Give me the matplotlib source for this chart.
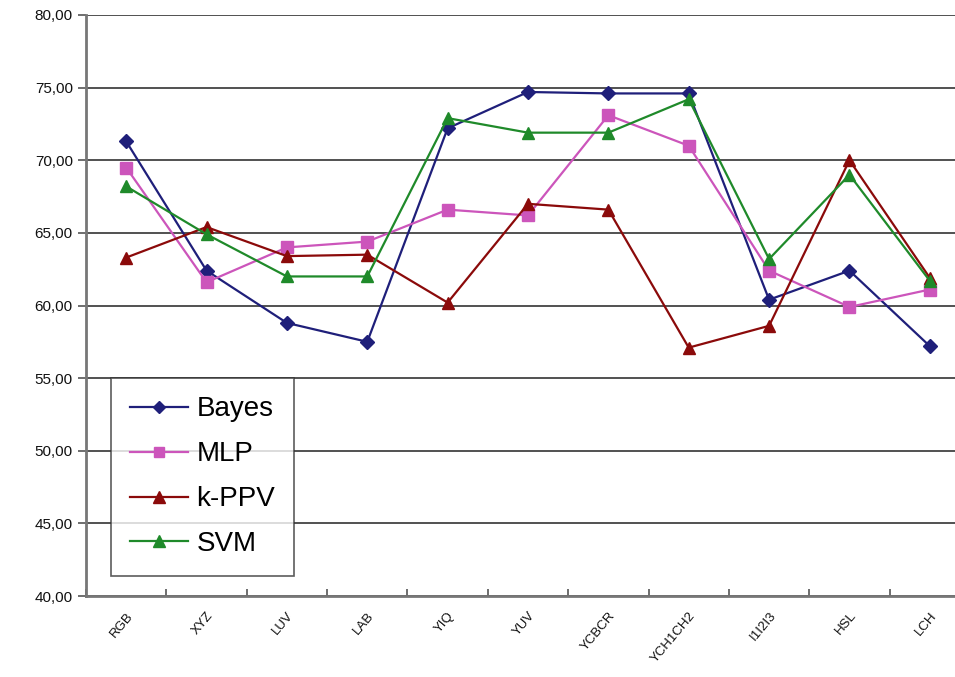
import matplotlib.pyplot as plt
import numpy as np

plt.rcParams['font.family'] = ['Liberation Sans', 'DejaVu Sans']

categories = ['RGB', 'XYZ', 'LUV', 'LAB', 'YIQ', 'YUV', 'YCBCR', 'YCH1CH2', 'I1I2I3', 'HSL', 'LCH']
bayes = [71.3, 62.4, 58.8, 57.5, 72.2, 74.7, 74.6, 74.6, 60.4, 62.4, 57.2]
mlp = [69.5, 61.6, 64.0, 64.4, 66.6, 66.2, 73.1, 71.0, 62.4, 59.9, 61.1]
kppv = [63.3, 65.4, 63.4, 63.5, 60.2, 67.0, 66.6, 57.1, 58.6, 70.0, 61.9]
svm = [68.2, 64.9, 62.0, 62.0, 72.9, 71.9, 71.9, 74.2, 63.2, 69.0, 61.7]
yticks = [40, 45, 50, 55, 60, 65, 70, 75, 80]

fig = plt.figure(figsize=(9.55, 6.77), dpi=100)
ax = fig.add_axes([86 / 955, 1 - 596 / 677, 884 / 955, 581 / 677])

x = np.arange(len(categories))
ax.plot(x, bayes, color='#1f1f7a', marker='D', markersize=7, lw=1.6, label='Bayes')
ax.plot(x, mlp, color='#cc55bb', marker='s', markersize=8, lw=1.6, label='MLP')
ax.plot(x, kppv, color='#8b0a0a', marker='^', markersize=9, lw=1.6, label='k-PPV')
ax.plot(x, svm, color='#1f8a2a', marker='^', markersize=9, lw=1.6, label='SVM')

ax.set_xlim(-0.5, len(categories) - 0.5)
ax.set_ylim(40, 80)
ax.set_yticks(yticks)
ax.set_yticklabels([('%.2f' % v).replace('.', ',') for v in yticks], fontsize=11, color='#111111')
ax.yaxis.grid(True, color='#333333', lw=1.2)
ax.set_axisbelow(True)

ax.set_xticks(x)
ax.set_xticklabels(categories, rotation=50, ha='right', rotation_mode='anchor',
                   fontsize=9.5, color='#111111')
ax.set_xticks(np.arange(len(categories) + 1) - 0.5, minor=True)
ax.tick_params(axis='x', which='major', length=0, pad=10)
ax.tick_params(axis='x', which='minor', length=5, color='#555555', width=1.2, direction='in')
ax.tick_params(axis='y', length=6, color='#555555', width=1.2, direction='out')

for s in ['top', 'right']:
    ax.spines[s].set_visible(False)
for s in ['left', 'bottom']:
    ax.spines[s].set_color('#777777')
    ax.spines[s].set_linewidth(2)

leg = ax.legend(loc='lower left', fontsize=20, frameon=True, fancybox=False, edgecolor='#333333',
                handlelength=2.1, labelspacing=0.68, borderpad=0.68, handletextpad=0.3,
                borderaxespad=0, markerscale=0.9)
leg.set_bbox_to_anchor((111 / 955, 1 - 576 / 677), transform=fig.transFigure)
leg.get_frame().set_linewidth(1.2)

fig.savefig('out.png', dpi=100)
